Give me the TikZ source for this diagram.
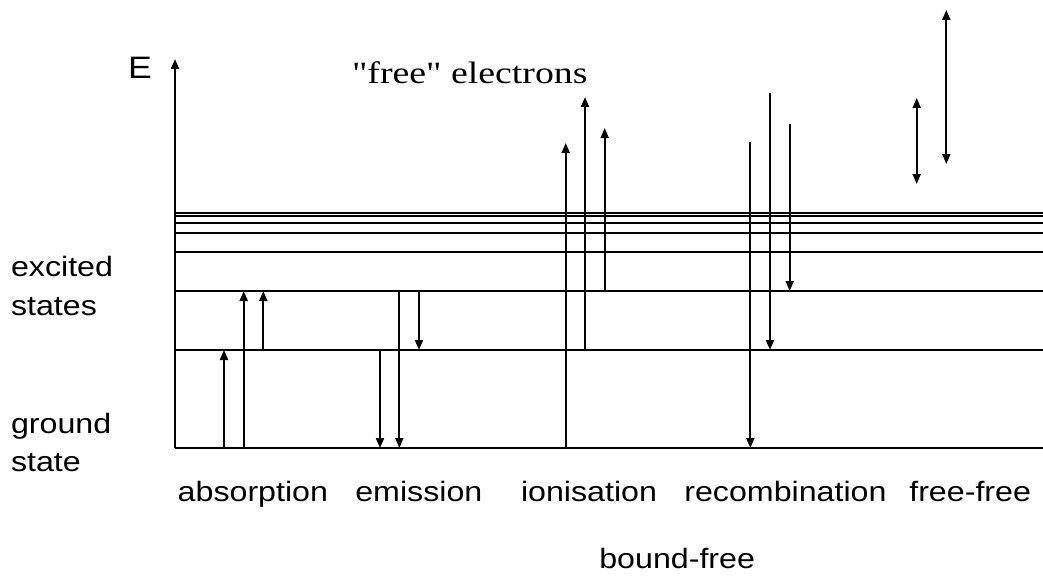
\documentclass[tikz,border=0pt]{standalone}
\usepackage{fontspec}
\newfontfamily\labelfont[FakeStretch=1.15]{Liberation Sans}
\newfontfamily\quotefont[FakeStretch=1.22]{Liberation Serif}
\usetikzlibrary{arrows.meta}

\begin{document}
\begin{tikzpicture}[x=1pt,y=-1pt,line width=2pt,
            tip/.tip={Triangle[width=8pt,length=10pt]},
            trans/.style={-tip},
            both/.style={tip-tip},
            lab/.style={inner sep=0pt, font=\labelfont\fontsize{28}{33}\selectfont},
            big/.style={inner sep=0pt, font=\labelfont\fontsize{31}{37}\selectfont},
            quote/.style={inner sep=0pt, font=\quotefont\fontsize{31}{36}\selectfont}]
				\useasboundingbox (0,0) rectangle (1043,575);

				% energy levels
				\foreach \y in {448,350,291,252,233,223,216,213}
					\draw (175,\y) -- (1043,\y);
				\draw[trans] (175,448) -- (175,59);
				\node[big,anchor=base east] (E) at (153,79) {E};
				\node[quote,anchor=base west] (free) at (351,83.3) {"free" electrons};

				% transitions
				\foreach \x/\a/\b in {224/448/350, 243.7/448/291, 263.3/350/291,
				                      380/350/448, 399.3/291/448, 419/291/350,
				                      565.7/448/143, 585/350/97, 604.7/291/128,
				                      750.3/142/448, 770/93/350, 789.7/124/291}
					\draw[trans] (\x,\a) -- (\x,\b);
				\draw[both] (916.7,98) -- (916.7,184);
				\draw[both] (946.3,10) -- (946.3,164);

				\node[lab,anchor=base west] (exc) at (10,276.7) {excited};
				\node[lab,anchor=base west] (exc2) at (10,315) {states};
				\node[lab,anchor=base west] (gnd) at (10,433) {ground};
				\node[lab,anchor=base west] (gnd2) at (10,471.7) {state};

				\node[lab,anchor=base west] (abs) at (176.7,501.7) {absorption};
				\node[lab,anchor=base west] (emi) at (354.3,501.7) {emission};
				\node[lab,anchor=base west] (ion) at (520,501.7) {ionisation};
				\node[lab,anchor=base west] (rec) at (683.3,501.7) {recombination};
				\node[lab,anchor=base west] (ff) at (908.3,501.7) {free-free};
				\node[lab,anchor=base west] (bf) at (598.3,568) {bound-free};
 		\end{tikzpicture}
\end{document}
